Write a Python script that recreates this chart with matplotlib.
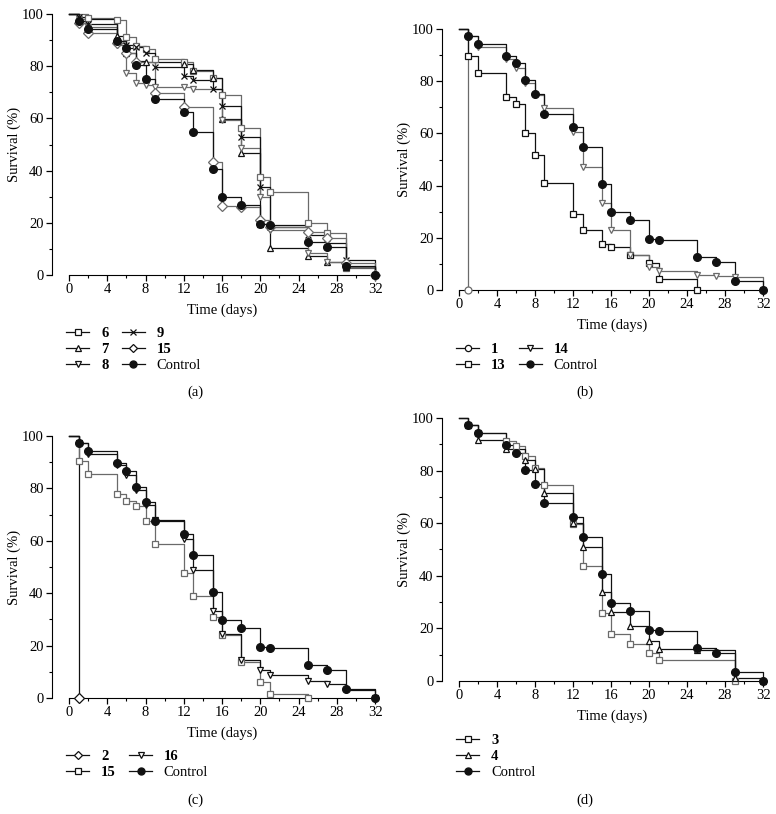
import matplotlib
matplotlib.use("Agg")
import matplotlib.pyplot as plt
from matplotlib.lines import Line2D
from matplotlib.ticker import MultipleLocator

plt.rcParams['font.family'] = ['Liberation Serif', 'DejaVu Serif']
plt.rcParams['font.size'] = 10.5

# survival data (time in days, survival in %)
control_t = [1, 2, 5, 6, 7, 8, 9, 12, 13, 15, 16, 18, 20, 21, 25, 27, 29, 32]
control_s = [97.3, 94.3, 89.8, 86.8, 80.4, 75.0, 67.6, 62.5, 54.7, 40.5, 29.8, 26.8, 19.5, 19.1, 12.5, 10.6, 3.6, 0]

# panel (a)
a6_t = [2, 5, 6, 7, 8, 9, 12, 13, 15, 16, 18, 20, 21, 25, 27, 29, 32]
a6_s = [98.5, 97.7, 91.1, 87.9, 86.6, 82.6, 81.5, 78.0, 75.6, 69.1, 56.4, 37.7, 31.8, 20.1, 16.2, 2.5, 0]
a7_t = [1, 5, 6, 7, 8, 12, 13, 15, 16, 18, 20, 21, 25, 27, 29, 32]
a7_s = [98.0, 91.6, 85.0, 82.0, 81.5, 80.8, 78.5, 75.5, 59.6, 46.6, 19.5, 10.2, 7.3, 5.0, 3.0, 0]
a8_t = [1, 2, 5, 6, 7, 8, 9, 12, 13, 16, 18, 20, 21, 25, 27, 29, 32]
a8_s = [98.0, 95.0, 88.0, 77.5, 73.4, 72.7, 72.2, 72.0, 71.1, 59.3, 48.7, 30.0, 17.2, 8.3, 5.1, 3.2, 0]
a9_t = [1, 2, 5, 6, 7, 8, 9, 12, 13, 15, 16, 18, 20, 21, 25, 27, 29, 32]
a9_s = [99.0, 96.0, 89.5, 88.0, 87.5, 85.1, 79.8, 76.2, 74.7, 71.1, 64.7, 52.7, 33.8, 18.5, 15.3, 12.1, 5.7, 0]
a15_t = [1, 2, 5, 6, 7, 9, 12, 15, 16, 18, 20, 21, 25, 27, 29, 32]
a15_s = [96.4, 92.6, 88.8, 85.0, 81.7, 69.9, 64.2, 43.4, 26.4, 26.2, 21.1, 18.5, 16.6, 14.0, 4.5, 0]

# panel (b)
b1_t = [1]
b1_s = [0]
b13_t = [1, 2, 5, 6, 7, 8, 9, 12, 13, 15, 16, 18, 20, 21, 25]
b13_s = [89.8, 83.0, 74.1, 71.4, 60.2, 51.6, 41.0, 29.0, 23.0, 17.6, 16.3, 13.4, 10.3, 4.2, 0]
b14_t = [1, 2, 5, 6, 7, 8, 9, 12, 13, 15, 16, 18, 20, 21, 25, 27, 29, 32]
b14_s = [97.3, 93.2, 88.5, 85.2, 79.4, 74.7, 69.6, 60.4, 47.3, 33.2, 23.0, 13.4, 8.9, 7.4, 5.7, 5.4, 5.1, 0]

# panel (c)
c2_t = [1]
c2_s = [0]
c15_t = [1, 2, 5, 6, 7, 8, 9, 12, 13, 15, 16, 18, 20, 21, 25]
c15_s = [90.3, 85.6, 77.7, 75.1, 73.4, 67.4, 58.9, 47.8, 38.9, 30.9, 23.9, 13.7, 6.1, 1.4, 0]
c16_t = [1, 2, 5, 6, 7, 8, 9, 12, 13, 15, 16, 18, 20, 21, 25, 27, 29, 32]
c16_s = [97.3, 93.3, 88.8, 85.0, 79.3, 73.5, 67.8, 60.6, 48.7, 33.2, 24.3, 14.6, 10.8, 8.7, 6.4, 5.2, 3.0, 0]

# panel (d)
d3_t = [1, 2, 5, 6, 7, 8, 9, 12, 13, 15, 16, 18, 20, 21, 29]
d3_s = [97.5, 94.1, 91.1, 89.4, 85.4, 80.8, 74.7, 59.5, 43.8, 25.9, 17.8, 14.1, 10.8, 8.0, 0]
d4_t = [1, 2, 5, 7, 8, 9, 12, 13, 15, 16, 18, 20, 21, 25, 29, 32]
d4_s = [97.3, 91.5, 88.1, 83.9, 80.5, 71.5, 60.1, 51.0, 33.7, 26.1, 21.0, 15.3, 12.0, 11.8, 1.0, 0]

GREY = '#6a6a6a'
BLACK = '#111111'

W, H = 776, 814
fig = plt.figure(figsize=(W / 100, H / 100), dpi=100)


def add_ax(left, top, right, bottom):
    # axes rectangle given in pixels
    return fig.add_axes([left / W, 1 - bottom / H, (right - left) / W, (bottom - top) / H])


def draw_panel(ax, series, legend_xy, ncol, caption, caption_y):
    handles = []
    for t, s, label, marker, color in series:
        ax.step([0] + t, [100] + s, where='post', color=color, lw=0.9, clip_on=False, zorder=2)
        if label == 'Control':
            ax.plot(t, s, linestyle='none', marker=marker, ms=5.5, mfc=BLACK, mec=BLACK,
                    clip_on=False, zorder=4)
            h = Line2D([], [], color=BLACK, lw=0.9, marker=marker, ms=5, mfc=BLACK, mec=BLACK)
        else:
            ms = 4.2 if marker == 'x' else 5
            ax.plot(t, s, linestyle='none', marker=marker, ms=ms, mfc='white', mec=color,
                    mew=0.9, clip_on=False, zorder=3)
            h = Line2D([], [], color=BLACK, lw=0.9, marker=marker, ms=ms - 0.5, mfc='white',
                       mec=BLACK, mew=0.9)
        handles.append((h, label))

    ax.set_xlim(-1.78, 32.3)
    ax.set_ylim(0, 102)
    ax.spines['top'].set_visible(False)
    ax.spines['right'].set_visible(False)
    ax.spines['left'].set_bounds(0, 100)
    ax.spines['bottom'].set_bounds(0, 32)
    ax.set_xticks(range(0, 33, 4))
    ax.xaxis.set_minor_locator(MultipleLocator(2))
    ax.set_yticks(range(0, 101, 20))
    ax.yaxis.set_minor_locator(MultipleLocator(10))
    ax.tick_params(which='major', direction='out', length=4, width=0.9, labelsize=10.5, pad=2)
    ax.tick_params(which='minor', direction='out', length=2.5, width=0.8)
    ax.set_xlabel('Time (days)', fontsize=10.5)
    ax.set_ylabel('Survival (%)', fontsize=10.5)

    # put the axis labels where they sit in the original figure
    bb = ax.get_position()
    wpx, hpx = bb.width * W, bb.height * H
    ax.xaxis.set_label_coords(170 / wpx, -29 / hpx)
    ax.yaxis.set_label_coords(-31 / wpx, 50 / 102)

    leg = ax.legend([h for h, _ in handles], [l for _, l in handles], ncol=ncol,
                    loc='upper left', bbox_to_anchor=(legend_xy[0] / W, 1 - legend_xy[1] / H),
                    bbox_transform=fig.transFigure, frameon=False, borderpad=0,
                    borderaxespad=0, handlelength=1.6, handletextpad=0.8,
                    labelspacing=0.18, columnspacing=0.9, fontsize=10.5)
    for txt in leg.get_texts():
        if txt.get_text() != 'Control':
            txt.set_fontweight('bold')

    fig.text((bb.x0 * W + 143) / W, 1 - caption_y / H, caption, ha='center', va='center',
             fontsize=10.5)


ax_a = add_ax(52, 8.8, 378, 275)
draw_panel(ax_a, [
    (a6_t, a6_s, '6', 's', GREY),
    (a7_t, a7_s, '7', '^', BLACK),
    (a8_t, a8_s, '8', 'v', GREY),
    (a9_t, a9_s, '9', 'x', BLACK),
    (a15_t, a15_s, '15', 'D', GREY),
    (control_t, control_s, 'Control', 'o', BLACK),
], (66, 327), 2, '(a)', 392)

ax_b = add_ax(442, 23.8, 766, 290)
draw_panel(ax_b, [
    (b1_t, b1_s, '1', 'o', GREY),
    (b13_t, b13_s, '13', 's', BLACK),
    (b14_t, b14_s, '14', 'v', GREY),
    (control_t, control_s, 'Control', 'o', BLACK),
], (456, 343), 2, '(b)', 392)

ax_c = add_ax(52, 430.8, 378, 698)
draw_panel(ax_c, [
    (c2_t, c2_s, '2', 'D', BLACK),
    (c15_t, c15_s, '15', 's', GREY),
    (c16_t, c16_s, '16', 'v', BLACK),
    (control_t, control_s, 'Control', 'o', BLACK),
], (66, 750), 2, '(c)', 800)

ax_d = add_ax(442, 412.7, 766, 681)
draw_panel(ax_d, [
    (d3_t, d3_s, '3', 's', GREY),
    (d4_t, d4_s, '4', '^', BLACK),
    (control_t, control_s, 'Control', 'o', BLACK),
], (456, 734), 1, '(d)', 800)

fig.savefig('out.png', dpi=100)
